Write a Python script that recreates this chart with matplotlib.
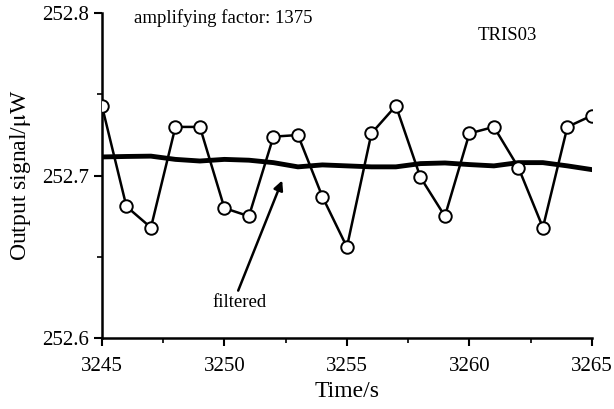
import numpy as np
from matplotlib import pyplot as plt
from matplotlib.ticker import MultipleLocator

plt.rcParams['font.family'] = ['Liberation Serif', 'DejaVu Serif']
plt.rcParams['mathtext.fontset'] = 'stix'

# time in seconds
time_s = np.arange(3245, 3266)
# raw output signal (uW)
signal = [252.743, 252.681, 252.668, 252.730, 252.730, 252.680, 252.675,
          252.724, 252.725, 252.687, 252.656, 252.726, 252.743, 252.699,
          252.675, 252.726, 252.730, 252.705, 252.668, 252.730, 252.737]
# filtered signal
filtered = [252.7115, 252.7118, 252.712, 252.710, 252.709, 252.710, 252.7095,
            252.708, 252.7054, 252.7066, 252.706, 252.7054, 252.7054, 252.7074,
            252.7078, 252.7068, 252.706, 252.708, 252.708, 252.706, 252.7037]

fig = plt.figure(figsize=(6.14, 4.09), dpi=100)
ax = fig.add_axes([0.166, 0.1736, 0.798, 0.794])

ax.plot(time_s, filtered, color='black', lw=3.5, zorder=2)
ax.plot(time_s, signal, color='black', lw=1.8, marker='o', ms=9,
        mfc='white', mec='black', mew=1.4, zorder=3)

ax.set_xlim(3245, 3265)
ax.set_ylim(252.6, 252.8)
ax.xaxis.set_major_locator(MultipleLocator(5))
ax.xaxis.set_minor_locator(MultipleLocator(2.5))
ax.yaxis.set_minor_locator(MultipleLocator(0.05))
ax.set_yticks([252.6, 252.7, 252.8])
ax.set_yticklabels(['252.6', '252.7', '252.8'])

for s in ['top', 'right']:
    ax.spines[s].set_visible(False)
for s in ['left', 'bottom']:
    ax.spines[s].set_linewidth(1.8)
ax.tick_params(which='major', direction='out', length=6, width=1.5, labelsize=15)
ax.tick_params(axis='x', which='major', pad=8)
ax.tick_params(which='minor', direction='out', length=3.5, width=1.2)

ax.set_xlabel('Time/s', fontsize=17, labelpad=3)
ax.set_ylabel('Output signal/$\\mathrm{\\mu}$W', fontsize=17, labelpad=6)

ax.text(3246.3, 252.797, 'amplifying factor: 1375', fontsize=13.5, va='center', ha='left')
ax.text(3260.35, 252.786, 'TRIS03', fontsize=13.5, va='center', ha='left')
ax.text(3250.6, 252.6216, 'filtered', fontsize=13.5, va='center', ha='center')
ax.annotate('', xy=(3252.4, 252.6986), xytext=(3250.52, 252.6276),
            arrowprops=dict(arrowstyle='-|>', color='black', lw=1.8,
                            mutation_scale=14))

fig.savefig('out.png', dpi=100)
